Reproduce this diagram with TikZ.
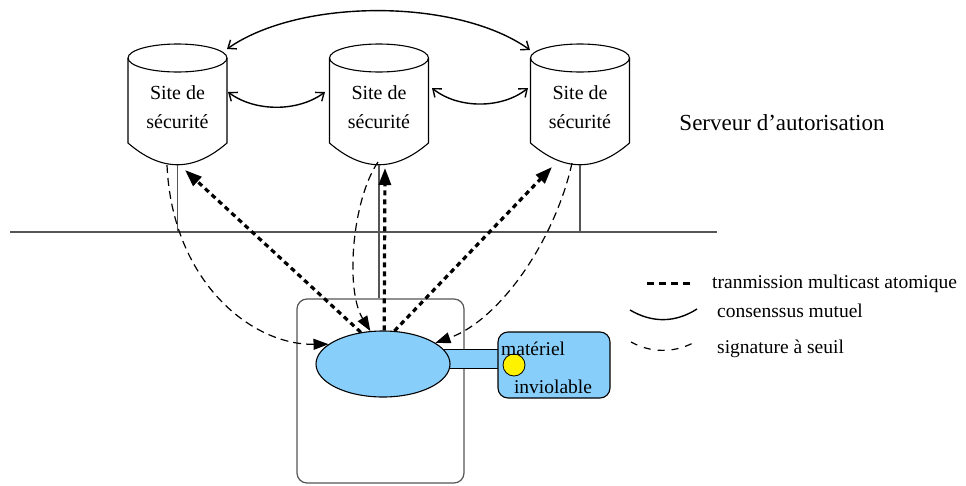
\documentclass[tikz,border=0pt]{standalone}
\usepackage{fontspec}
\setmainfont{Liberation Serif}
\usetikzlibrary{arrows.meta,calc,shapes.geometric}
\definecolor{skyb}{RGB}{135,206,250}
\definecolor{wiregray}{RGB}{85,85,85}
\begin{document}
\begin{tikzpicture}[x=1pt,y=-1pt,
  site/.style={minimum width=99pt,minimum height=85pt,align=center,inner sep=0pt,
    font=\fontsize{20}{29}\selectfont},
  cyl/.style={line width=1.1pt},
  multi/.style={line width=3.2pt,dash pattern=on 5pt off 4pt,-{Triangle[length=17pt,width=12pt]}},
  sig/.style={line width=1.2pt,dash pattern=on 8pt off 5pt,-{Triangle[length=15pt,width=11pt]}},
  cons/.style={line width=1.4pt,{Straight Barb[length=7pt,width=11pt]}-{Straight Barb[length=7pt,width=11pt]}},
  wire/.style={wiregray,line width=1.2pt},
  lab/.style={font=\fontsize{19.5}{24}\selectfont,inner sep=0pt}]
\useasboundingbox (0,0) rectangle (966,485);

% security sites (cylinders)
\node[site] (s1) at (177.5,107) {Site de\\sécurité};
\node[site] (s2) at (379,107) {Site de\\sécurité};
\node[site] (s3) at (580,107) {Site de\\sécurité};
\foreach \n in {s1,s2,s3}{
  \draw[cyl] ($(\n.center)+(0,-49)$) ellipse [x radius=49.5, y radius=14];
  \draw[cyl] ($(\n.center)+(-49.5,-49)$) -- ($(\n.center)+(-49.5,36)$)
    .. controls ($(\n.center)+(-16,65)$) and ($(\n.center)+(16,65)$) .. ($(\n.center)+(49.5,36)$)
    -- ($(\n.center)+(49.5,-49)$);
}

\node[lab,font=\fontsize{23}{28}\selectfont,anchor=base] (srv) at (782,130) {Serveur d’autorisation};

% ground line and wires
\coordinate (gl) at (10,232);
\coordinate (gr) at (717,232);
\draw[wire] (gl) -- (gr);
\coordinate (b1) at ($(s1.center)+(0,58)$);
\coordinate (b2) at ($(s2.center)+(0,58)$);
\coordinate (b3) at ($(s3.center)+(0,58)$);

% host
\node[draw=wiregray,line width=1.2pt,rounded corners=10pt,minimum width=167pt,minimum height=184pt] (host) at (380.5,391) {};
\draw[wire] (b1) -- (b1 |- gl);
\draw[wire] (b3) -- (b3 |- gl);
\draw[wire] (b2) -- (b2 |- host.north);

% tamper-proof hardware
\node[fill=skyb,minimum width=60pt,minimum height=18pt,inner sep=0pt] (bar) at (469,359) {};
\draw[line width=1.1pt] (bar.north west) -- (bar.north east);
\draw[line width=1.1pt] (bar.south west) -- (bar.south east);
\node[ellipse,draw,fill=skyb,minimum width=134pt,minimum height=66pt,inner sep=0pt,line width=1.1pt] (proc) at (383,364) {};
\node[draw,fill=skyb,rounded corners=10pt,minimum width=112pt,minimum height=66pt,line width=1.1pt] (hw) at (554,365) {};
\node[circle,draw,fill=yellow,minimum size=22pt,inner sep=0pt,line width=0.8pt] (seal) at (514,365) {};
\node[lab,anchor=base west] (t1) at (501,355) {matériel};
\node[lab,anchor=base] (t2) at (553,393) {inviolable};

% atomic multicast
\coordinate (m1) at ($(s1.center)+(7.5,63)$);
\coordinate (m2) at ($(s2.center)+(6,61)$);
\coordinate (m3) at ($(s3.center)+(-28,60)$);
\draw[multi] (proc.125) -- (m1);
\draw[multi] (proc.88) -- (m2);
\draw[multi] (proc.71) -- (m3);

% threshold signature
\coordinate (g1) at ($(s1.center)+(-10.5,58)$);
\coordinate (g2) at ($(s2.center)+(-1,55)$);
\coordinate (g3) at ($(s3.center)+(-8,56)$);
\draw[sig] (g1) .. controls (172,280) and (250,345) .. (proc.160);
\draw[sig] (g2) .. controls (352,200) and (345,290) .. (proc.111);
\draw[sig] (g3) .. controls (555,240) and (500,320) .. (proc.22);

% mutual consensus
\coordinate (c1r) at ($(s1.center)+(50.5,-15)$);
\coordinate (c2l) at ($(s2.center)+(-54,-15)$);
\coordinate (c2r) at ($(s2.center)+(53,-19)$);
\coordinate (c3l) at ($(s3.center)+(-52,-19)$);
\coordinate (c1t) at ($(s1.center)+(49.5,-58)$);
\coordinate (c3t) at ($(s3.center)+(-50,-57)$);
\draw[cons] (c1r) .. controls (255,112) and (298,112) .. (c2l);
\draw[cons] (c2r) .. controls (458,109) and (502,109) .. (c3l);
\draw[cons] (c1t) .. controls (300,-2) and (457,-2) .. (c3t);

% legend
\coordinate (la1) at (647,283);
\coordinate (lb1) at (693,283);
\draw[line width=3pt,dash pattern=on 7pt off 5pt] (la1) -- (lb1);
\node[lab,anchor=base west] (lt1) at (712,288) {tranmission multicast atomique};
\coordinate (la2) at (630,310);
\coordinate (lb2) at (697,309);
\draw[line width=1.4pt] (la2) .. controls (652,323) and (675,323) .. (lb2);
\node[lab,anchor=base west] (lt2) at (717,317) {consenssus mutuel};
\coordinate (la3) at (631,342);
\coordinate (lb3) at (693,343);
\draw[line width=1.2pt,dash pattern=on 7pt off 7pt] (la3) .. controls (651,353) and (673,353) .. (lb3);
\node[lab,anchor=base west] (lt3) at (717,353) {signature à seuil};
\end{tikzpicture}
\end{document}
